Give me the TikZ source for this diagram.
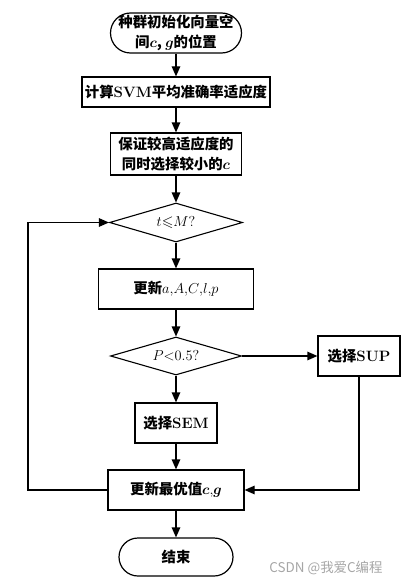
\documentclass[tikz,border=0pt]{standalone}
\usepackage{amsmath,amssymb}
\usepackage{fontspec}
\newfontfamily\cjk{Noto Sans CJK SC}[Scale=0.96]
\usetikzlibrary{arrows.meta,shapes.geometric}
\newcommand{\bsym}[1]{\boldsymbol{#1}}
\newcommand{\lat}[1]{{\rmfamily\bfseries #1}}
\begin{document}
\begin{tikzpicture}[x=1pt,y=-1pt,
  every node/.style={font=\fontsize{15}{20}\selectfont\cjk\bfseries, align=center, inner sep=0pt},
  term/.style={draw, line width=1.2pt, rectangle},
  proc/.style={draw, line width=1.2pt, rectangle},
  dec/.style={draw, line width=1.1pt, diamond, aspect=3.4},
  arr/.style={-{Triangle[length=10pt,width=8.5pt]}, line width=1.2pt}
]
\useasboundingbox (0,0) rectangle (420,586);
\node[term, minimum width=131pt, minimum height=40pt, rounded corners=20pt] (start) at (176,33)
  {种群初始化向量空\\间$\bsym{c}$, $\bsym{g}$的位置};
\node[proc, minimum width=188pt, minimum height=30pt] (fit) at (176,92)
  {计算\lat{SVM}平均准确率适应度};
\node[proc, minimum width=131pt, minimum height=42pt] (sel) at (176,154)
  {保证较高适应度的\\同时选择较小的$\bsym{c}$};
\node[dec, minimum width=133pt, minimum height=39pt] (d1) at (176,222.5)
  {$t{\leqslant}M?$};
\node[proc, minimum width=155pt, minimum height=40pt] (upd) at (176,289)
  {更新$a{,}A{,}C{,}l{,}p$};
\node[dec, minimum width=131pt, minimum height=38pt] (d2) at (176,356)
  {$P{<}0.5?$};
\node[proc, minimum width=82pt, minimum height=40pt] (sup) at (359,356)
  {选择\lat{SUP}};
\node[proc, minimum width=82pt, minimum height=40pt] (sem) at (176,423)
  {选择\lat{SEM}};
\node[proc, minimum width=136pt, minimum height=40pt] (best) at (176,490)
  {更新最优值$\bsym{c}{,}\bsym{g}$};
\node[term, minimum width=114pt, minimum height=38pt, rounded corners=19pt] (stop) at (176,557)
  {结束};
\node[font=\fontsize{14}{15}\selectfont\cjk, text=black!35] (wm) at (326,568) {CSDN @我爱C编程};
\coordinate (loopL) at (28,0);
\draw[arr] (start) -- (fit);
\draw[arr] (fit) -- (sel);
\draw[arr] (sel) -- (d1);
\draw[arr] (d1) -- (upd);
\draw[arr] (upd) -- (d2);
\draw[arr] (d2) -- (sem);
\draw[arr] (sem) -- (best);
\draw[arr] (best) -- (stop);
\draw[arr] (d2.east) -- (sup.west);
\draw[arr] (sup.south) |- (best.east);
\draw[arr] (best.west) -- (best.west -| loopL) -- (d1.west -| loopL) -- (d1.west);
\end{tikzpicture}
\end{document}
